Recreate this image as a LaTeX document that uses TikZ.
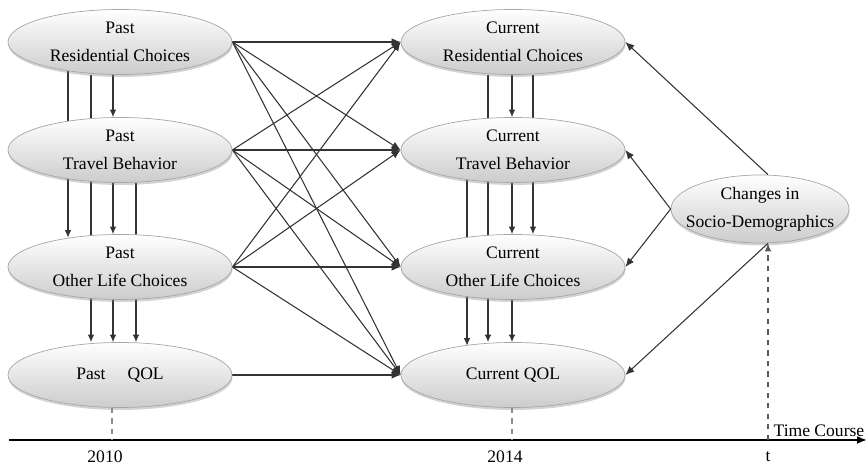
\documentclass[tikz,border=0pt]{standalone}
\usepackage{fontspec}
\setmainfont{Liberation Serif}
\usetikzlibrary{arrows.meta,shapes.geometric,shadows,backgrounds}
\tikzset{
  stage/.style={ellipse, draw=black!35, line width=0.4pt, top color=white, bottom color=black!20, minimum width=4.48cm, minimum height=1.3cm, inner sep=0pt, align=center, font=\fontsize{10}{16}\selectfont, drop shadow={shadow xshift=0.3pt, shadow yshift=-1.4pt, opacity=0.35}},
  link/.style={-{Latex[length=1.8mm,width=1.5mm]}, line width=0.6pt, black!80},
  vlink/.style={-{Latex[length=1.5mm,width=1.3mm]}, line width=0.6pt, black!80},
  deepvlink/.style={vlink, shorten <=-2pt, shorten >=-2pt},
  guide/.style={dashed, line width=0.6pt, black!45},
  yearlabel/.style={font=\fontsize{10}{12}\selectfont, inner sep=1pt}
}

\begin{document}
\begin{tikzpicture}
\useasboundingbox (0,0) rectangle (17.34,9.28);

% 2010 wave
\node[stage] (prc) at (2.4,8.44) {Past\\Residential Choices};
\node[stage] (ptb) at (2.4,6.28) {Past\\Travel Behavior};
\node[stage] (polc) at (2.4,3.94) {Past\\Other Life Choices};
\node[stage] (pqol) at (2.4,1.78) {Past \quad QOL};

% 2014 wave
\node[stage] (crc) at (10.26,8.44) {Current\\Residential Choices};
\node[stage] (ctb) at (10.26,6.28) {Current\\Travel Behavior};
\node[stage] (colc) at (10.26,3.94) {Current\\Other Life Choices};
\node[stage] (cqol) at (10.26,1.78) {Current QOL};

\node[stage, minimum width=3.56cm, minimum height=1.36cm, inner xsep=-0.5cm] (csd) at (15.2,5.1) {Changes in\\Socio-Demographics};

% columns of the vertical links
\coordinate (la) at (1.36,0);
\coordinate (lb) at (1.82,0);
\coordinate (lc) at (2.26,0);
\coordinate (ld) at (2.72,0);
\coordinate (ra) at (9.34,0);
\coordinate (rb) at (9.76,0);
\coordinate (rc) at (10.24,0);
\coordinate (rd) at (10.66,0);

\begin{scope}[on background layer]
\foreach \s in {prc,ptb,polc}
  \foreach \t in {crc,ctb,colc,cqol}
    \draw[link] (\s.east) -- (\t.west);
\draw[link] (pqol.east) -- (cqol.west);

\draw[vlink] (prc.south -| lc) -- (ptb.north -| lc);
\draw[deepvlink] (prc.south -| la) -- (polc.north -| la);
\draw[vlink] (prc.south -| lb) -- (pqol.north -| lb);
\draw[vlink] (ptb.south -| lc) -- (polc.north -| lc);
\draw[vlink] (ptb.south -| ld) -- (pqol.north -| ld);
\draw[vlink] (polc.south -| lc) -- (pqol.north -| lc);

\draw[vlink] (crc.south -| rc) -- (ctb.north -| rc);
\draw[vlink] (crc.south -| rd) -- (colc.north -| rd);
\draw[vlink] (crc.south -| rb) -- (cqol.north -| rb);
\draw[vlink] (ctb.south -| rc) -- (colc.north -| rc);
\draw[deepvlink] (ctb.south -| ra) -- (cqol.north -| ra);
\draw[vlink] (colc.south -| rc) -- (cqol.north -| rc);
\end{scope}

% time axis
\coordinate (ax0) at (0.18,0.48);
\coordinate (ax1) at (17.34,0.48);
\coordinate (t0) at (2.24,0.48);
\coordinate (t1) at (10.24,0.48);
\coordinate (tt) at (15.36,0.48);
\draw[-{Latex[length=2mm,width=1.6mm]}, line width=1pt] (ax0) -- (ax1);
\node[yearlabel] (y0) at (2.1,0.14) {2010};
\node[yearlabel] (y1) at (10.1,0.14) {2014};
\node[yearlabel] (yt) at (15.36,0.14) {t};
\node[anchor=south west, inner xsep=3pt, inner ysep=1.5pt, font=\fontsize{10}{12}\selectfont] (tc) at (tt) {Time Course};

\draw[guide] (pqol.south -| t0) -- (t0);
\draw[guide] (cqol.south -| t1) -- (t1);
\draw[guide, black!65, -{Latex[length=1.6mm,width=1.3mm]}] (tt) -- (csd.south -| tt);

\draw[link] (csd.north -| tt) -- (crc.east);
\draw[link] (csd.west) -- (ctb.east);
\draw[link] (csd.west) -- (colc.east);
\draw[link] (csd.south -| tt) -- (cqol.east);
\end{tikzpicture}
\end{document}
